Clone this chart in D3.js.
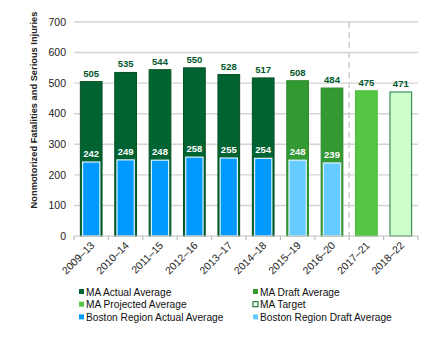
<!DOCTYPE html>
<html lang="en">
<head>
  <meta charset="UTF-8" />
  <title>Nonmotorized Fatalities and Serious Injuries</title>
  <style>
    body { margin: 0; background: #fff; font-family: "Liberation Sans", Arial, sans-serif; }
    svg text { font-family: "Liberation Sans", Arial, sans-serif; }
  </style>
</head>
<body>
  <div id="chart"></div>

  <script src="https://cdnjs.cloudflare.com/ajax/libs/d3/7.8.4/d3.min.js"></script>
  <script>
    // chart values
    const periods = ["2009–13", "2010–14", "2011–15", "2012–16", "2013–17", "2014–18", "2015–19", "2016–20", "2017–21", "2018–22"];
    const maValues = [505, 535, 544, 550, 528, 517, 508, 484, 475, 471];
    const maKinds = ["actual", "actual", "actual", "actual", "actual", "actual", "draft", "draft", "projected", "target"];
    const bostonValues = [242, 249, 248, 258, 255, 254, 248, 239];
    const bostonKinds = ["actual", "actual", "actual", "actual", "actual", "actual", "draft", "draft"];
    const yTicks = [0, 100, 200, 300, 400, 500, 600, 700];
    const legendItems = [
      "MA Actual Average", "MA Draft Average",
      "MA Projected Average", "MA Target",
      "Boston Region Actual Average", "Boston Region Draft Average"
    ];

    const width = 439, height = 343;
    const margin = { top: 22, right: 21, bottom: 107, left: 74 };

    const maFill = { actual: "#006331", draft: "#339933", projected: "#55c744", target: "#ccffcc" };
    const maStroke = { actual: "#00501f", draft: "#2e8a2e", projected: "#4dbb3d", target: "#1e7a3c" };
    const bostonFill = { actual: "#0099ff", draft: "#66ccff" };

    const svg = d3.select("#chart").append("svg")
      .attr("width", width).attr("height", height);

    const x = d3.scaleBand()
      .domain(periods)
      .range([margin.left, width - margin.right])
      .paddingInner(0.34)
      .paddingOuter(0.17);

    const y = d3.scaleLinear()
      .domain([0, 700])
      .range([height - margin.bottom, margin.top]);

    // gridlines
    svg.append("g")
      .selectAll("line")
      .data(yTicks.filter(d => d > 0))
      .enter().append("line")
      .attr("x1", margin.left).attr("x2", width - margin.right)
      .attr("y1", d => y(d)).attr("y2", d => y(d))
      .attr("stroke", "#d4d4d4").attr("stroke-width", 1.4);

    // y tick labels
    svg.append("g")
      .selectAll("text")
      .data(yTicks)
      .enter().append("text")
      .attr("x", margin.left - 8)
      .attr("y", d => y(d))
      .attr("dy", "0.35em")
      .attr("text-anchor", "end")
      .attr("font-size", 10.5)
      .attr("fill", "#222")
      .text(d => d);

    // dashed divider between draft and projected
    const step = x.step();
    const divX = x(periods[8]) - step * x.paddingInner() / 2;
    svg.append("line")
      .attr("x1", divX).attr("x2", divX)
      .attr("y1", margin.top).attr("y2", y(0))
      .attr("stroke", "#cfcfcf").attr("stroke-width", 1.5)
      .attr("stroke-dasharray", "6,4");

    // MA bars
    svg.append("g")
      .selectAll("rect")
      .data(maValues)
      .enter().append("rect")
      .attr("x", (d, i) => x(periods[i]) + 0.5)
      .attr("y", d => y(d))
      .attr("width", x.bandwidth() - 1)
      .attr("height", d => y(0) - y(d))
      .attr("fill", (d, i) => maFill[maKinds[i]])
      .attr("stroke", (d, i) => maStroke[maKinds[i]])
      .attr("stroke-width", 1);

    // Boston bars
    const bw = x.bandwidth() * 0.76;
    svg.append("g")
      .selectAll("rect")
      .data(bostonValues)
      .enter().append("rect")
      .attr("x", (d, i) => x(periods[i]) + (x.bandwidth() - bw) / 2)
      .attr("y", d => y(d))
      .attr("width", bw)
      .attr("height", d => y(0) - y(d))
      .attr("fill", (d, i) => bostonFill[bostonKinds[i]])
      .attr("stroke", "#dff2ff")
      .attr("stroke-width", 1.2);

    // MA value labels
    svg.append("g")
      .selectAll("text")
      .data(maValues)
      .enter().append("text")
      .attr("x", (d, i) => x(periods[i]) + x.bandwidth() / 2)
      .attr("y", d => y(d) - 5)
      .attr("text-anchor", "middle")
      .attr("font-size", 9.5)
      .attr("font-weight", "bold")
      .attr("fill", "#00582c")
      .text(d => d);

    // Boston value labels
    svg.append("g")
      .selectAll("text")
      .data(bostonValues)
      .enter().append("text")
      .attr("x", (d, i) => x(periods[i]) + x.bandwidth() / 2)
      .attr("y", d => y(d) - 5)
      .attr("text-anchor", "middle")
      .attr("font-size", 9.5)
      .attr("font-weight", "bold")
      .attr("fill", "#fff")
      .text(d => d);

    // x axis line and ticks
    svg.append("line")
      .attr("x1", margin.left).attr("x2", width - margin.right)
      .attr("y1", y(0)).attr("y2", y(0))
      .attr("stroke", "#bdbdbd").attr("stroke-width", 1.2);

    const boundaries = d3.range(periods.length + 1).map(i => margin.left + i * step);
    svg.append("g")
      .selectAll("line")
      .data(boundaries)
      .enter().append("line")
      .attr("x1", d => d).attr("x2", d => d)
      .attr("y1", y(0)).attr("y2", y(0) + 4)
      .attr("stroke", "#bdbdbd").attr("stroke-width", 1.2);

    // x labels, rotated
    svg.append("g")
      .selectAll("text")
      .data(periods)
      .enter().append("text")
      .attr("transform", d => `translate(${x(d) + x.bandwidth() / 2 + 4},${y(0) + 10}) rotate(-45)`)
      .attr("text-anchor", "end")
      .attr("font-size", 10.5)
      .attr("fill", "#222")
      .text(d => d);

    // y axis title
    svg.append("text")
      .attr("transform", `translate(37,${(margin.top + y(0)) / 2 - 19}) rotate(-90)`)
      .attr("text-anchor", "middle")
      .attr("font-size", 9.3)
      .attr("font-weight", "bold")
      .attr("fill", "#222")
      .text("Nonmotorized Fatalities and Serious Injuries");

    // legend
    const legendFill = [maFill.actual, maFill.draft, maFill.projected, "#fff", bostonFill.actual, bostonFill.draft];
    const legendStroke = [null, null, null, "#1e7a3c", null, null];
    const legend = svg.append("g")
      .selectAll("g")
      .data(legendItems)
      .enter().append("g")
      .attr("transform", (d, i) => `translate(${i % 2 === 0 ? 79 : 253},${292 + Math.floor(i / 2) * 12.7})`);

    legend.append("rect")
      .attr("x", 0).attr("y", -3)
      .attr("width", 5).attr("height", 5)
      .attr("fill", (d, i) => legendFill[i])
      .attr("stroke", (d, i) => legendStroke[i])
      .attr("stroke-width", 1.2);

    legend.append("text")
      .attr("x", 7)
      .attr("y", 0)
      .attr("dy", "0.35em")
      .attr("font-size", 10.2)
      .attr("fill", "#111")
      .text(d => d);
  </script>
</body>
</html>
